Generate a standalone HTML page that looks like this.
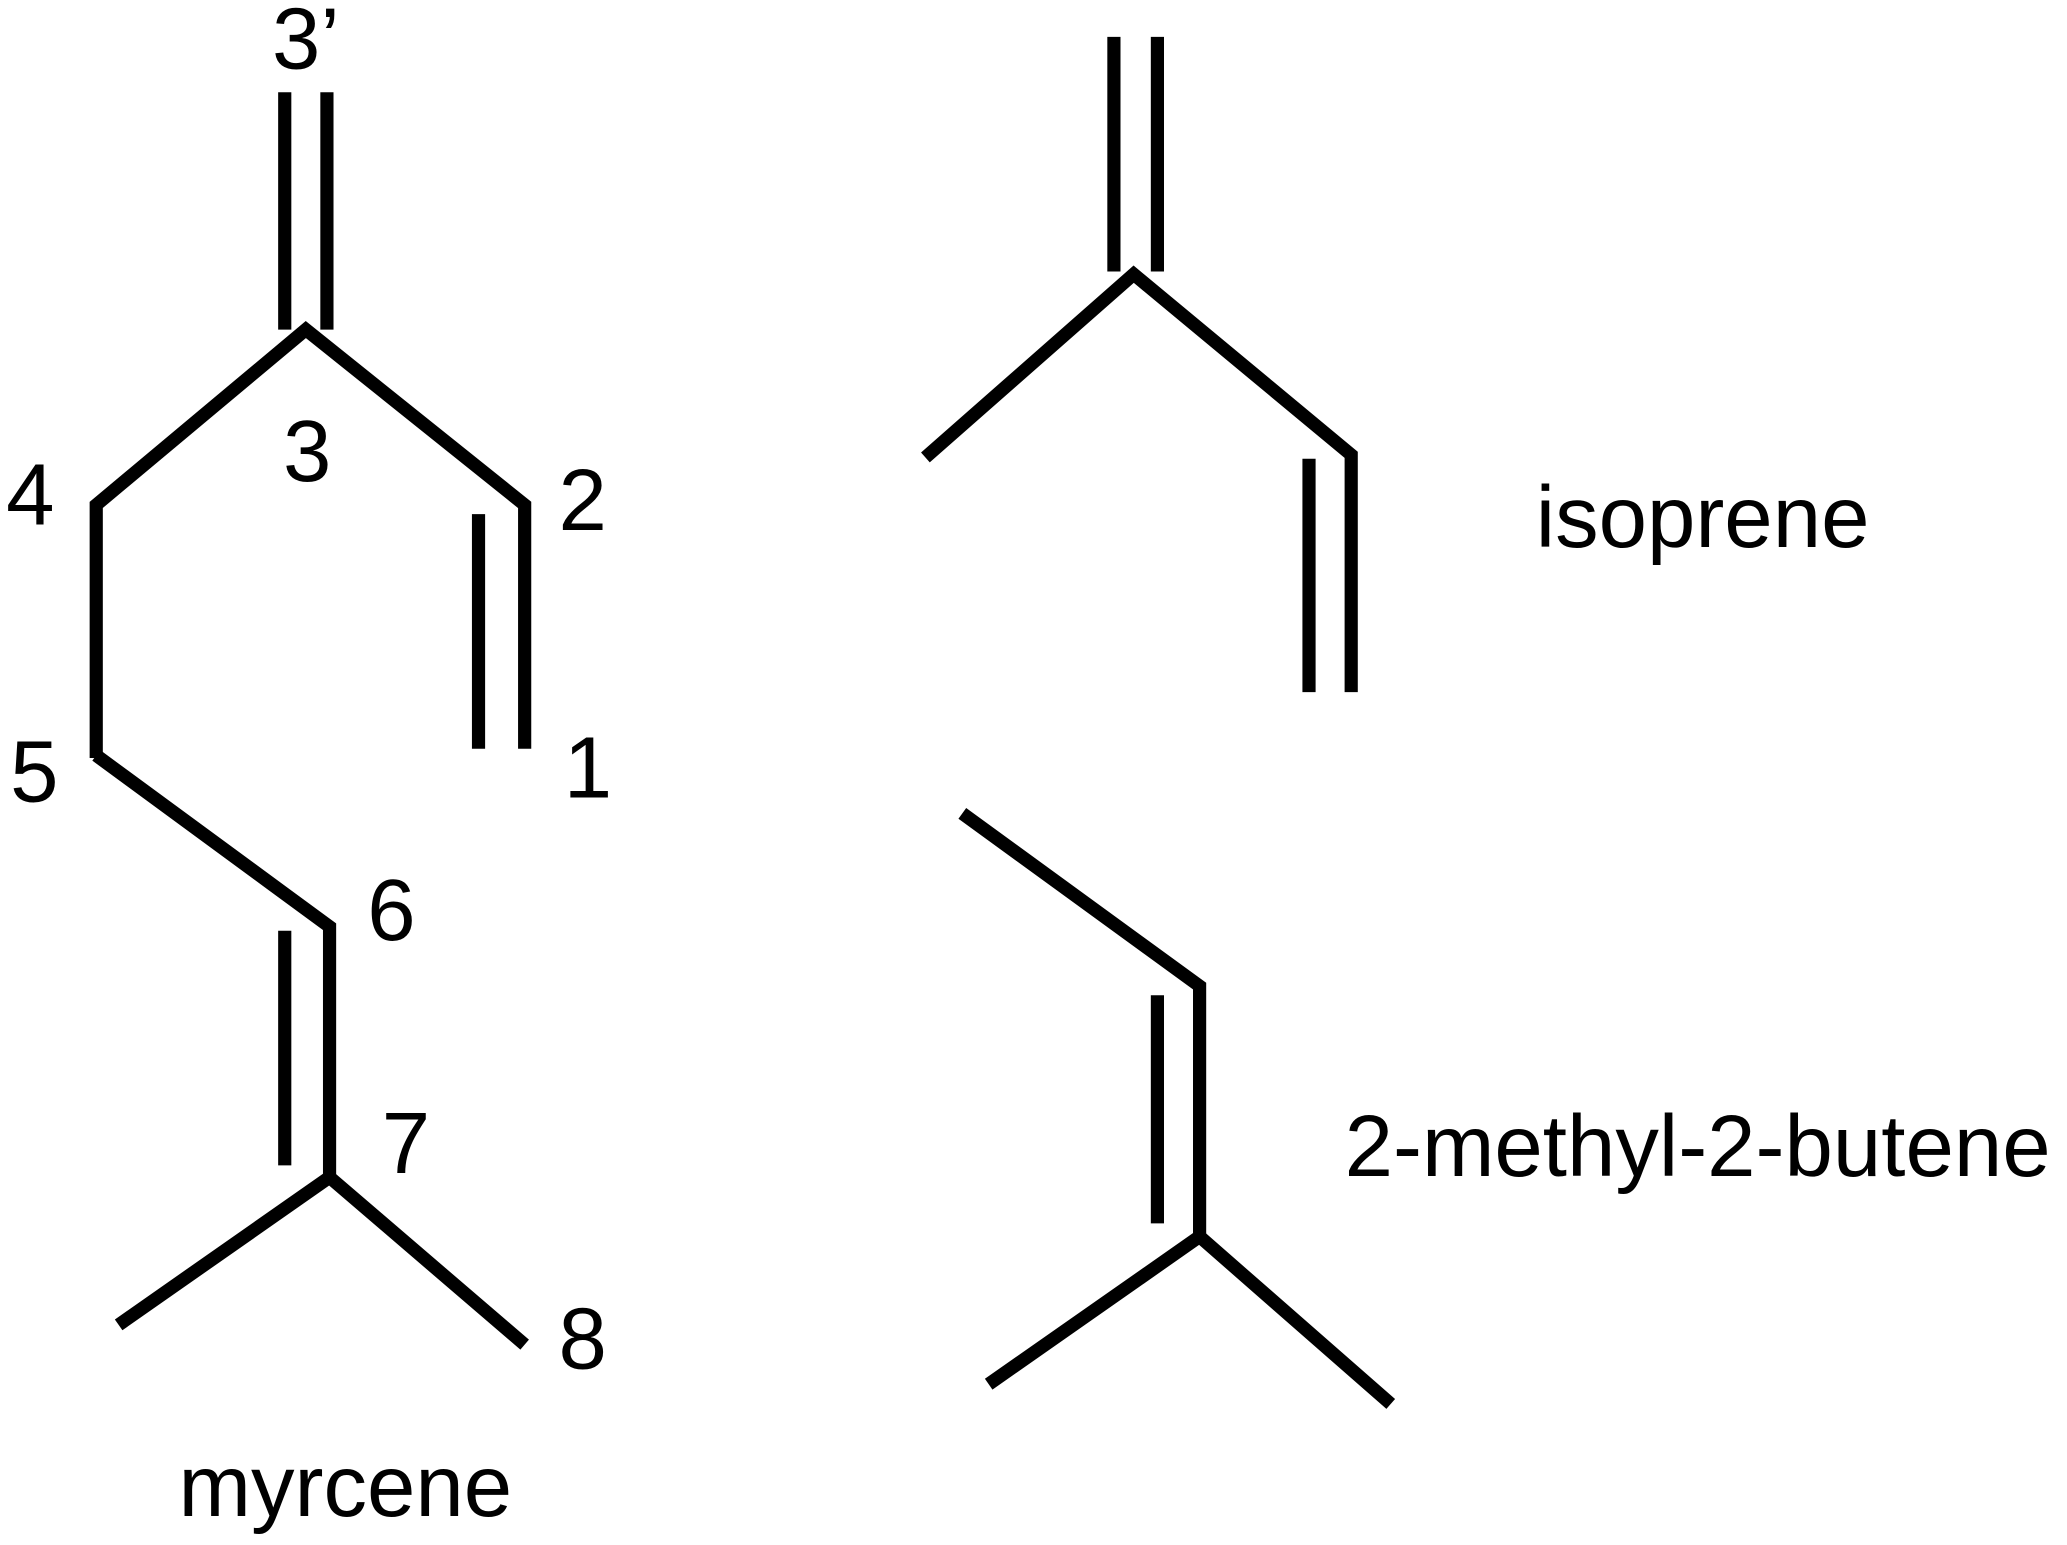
<!DOCTYPE html>
<html><head><meta charset="utf-8"><style>
html,body{margin:0;padding:0;background:#fff;}
svg{display:block;}
text{font-family:"Liberation Sans",Arial,sans-serif;font-size:66px;fill:#000;}
</style></head><body>
<svg width="2067" height="1545" viewBox="0 0 1568 1172" preserveAspectRatio="none" xmlns="http://www.w3.org/2000/svg">
<g stroke="#000" stroke-width="10" fill="none" stroke-linecap="butt" stroke-linejoin="miter">
<!-- myrcene -->
<line x1="216" y1="70" x2="216" y2="250"/>
<line x1="248" y1="70" x2="248" y2="250"/>
<polyline points="73,575 73,383 232,250 398,383 398,568"/>
<line x1="363" y1="390" x2="363" y2="568"/>
<polyline points="73,573 250,703 250,893"/>
<line x1="216" y1="706" x2="216" y2="884"/>
<polyline points="90,1005 250,893 398,1020"/>
<!-- isoprene -->
<line x1="845" y1="28" x2="845" y2="206"/>
<line x1="878" y1="28" x2="878" y2="206"/>
<polyline points="702,347 860,208 1025,345 1025,525"/>
<line x1="993" y1="348" x2="993" y2="525"/>
<!-- 2-methyl-2-butene -->
<polyline points="730,617 910,748 910,938"/>
<line x1="878" y1="755" x2="878" y2="928"/>
<polyline points="750,1050 910,938 1055,1065"/>
</g>
<text x="232" y="52" text-anchor="middle">3’</text>
<text x="233" y="365" text-anchor="middle">3</text>
<text x="23" y="398" text-anchor="middle">4</text>
<text x="442" y="402" text-anchor="middle">2</text>
<text x="26" y="608" text-anchor="middle">5</text>
<text x="446" y="605" text-anchor="middle">1</text>
<text x="297" y="713" text-anchor="middle">6</text>
<text x="308" y="890" text-anchor="middle">7</text>
<text x="442" y="1038" text-anchor="middle">8</text>
<text x="262" y="1150" text-anchor="middle">myrcene</text>
<text x="1165" y="415">isoprene</text>
<text x="1020" y="892">2-methyl-2-butene</text>
</svg>
</body></html>
